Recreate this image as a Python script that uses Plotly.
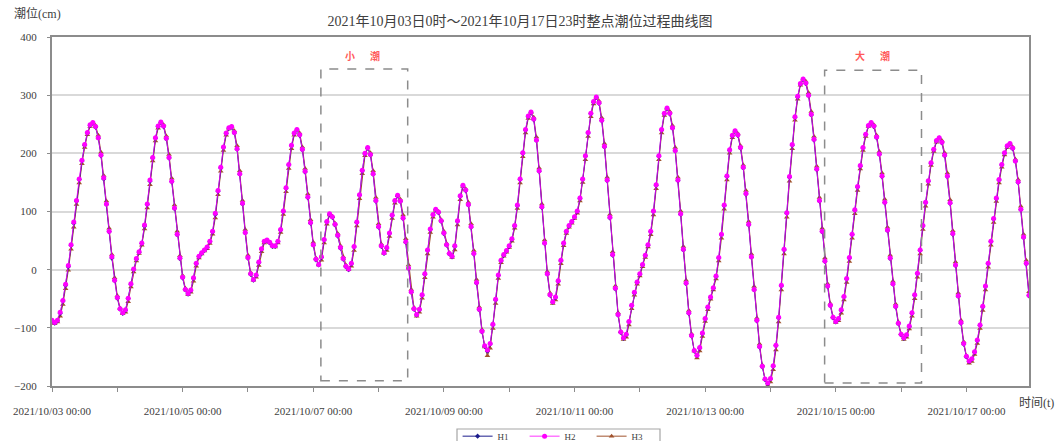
import pandas as pd
import plotly.graph_objects as go

# ---------------- data ----------------
START = "2021-10-03 00:00"
END = "2021-10-17 23:00"

H1 = [
    -88, -92, -88, -75, -54, -27, 5, 42, 80, 118, 155, 187, 214, 235, 248,
    252, 245, 226, 196, 156, 112, 65, 20, -19, -49, -68, -75,
    -70, -50, -25, 0, 18, 30, 45, 75, 112, 152, 192, 226, 246, 253,
    246, 225, 192, 151, 105, 60, 19, -14, -35, -42,
    -36, -15, 10, 22, 28, 33, 38, 48, 65, 95, 135, 175, 210, 234, 243, 245,
    235, 207, 164, 113, 63, 20, -8, -18,
    -10, 12, 35, 48, 50, 46, 40, 40, 48, 68, 100, 140, 180, 213, 234, 240,
    231, 206, 168, 124, 80, 42, 17, 8,
    21, 51, 82, 95,
    90, 77, 58, 37, 18, 5, 0,
    10, 39, 81, 128, 170, 199, 209,
    197, 164, 118, 73, 40, 28,
    37, 62, 93, 118, 127,
    117, 88, 47, 2, -39, -68, -78,
    -69, -44, -8, 33, 69, 94, 103,
    98, 83, 62, 42, 27, 22,
    40, 83, 126, 144,
    136, 111, 73, 27, -23, -69, -107, -132, -140,
    -128, -95, -52, -10, 15, 25, 32, 40, 52, 75, 110, 155, 200, 240, 263, 270,
    258, 222, 169, 107, 45, -8, -44, -56,
    -48, -20, 15, 45, 65, 75, 82, 90, 100, 122, 155, 195, 235, 268, 288, 296,
    286, 256, 211, 153, 89, 25, -33, -78, -108, -118,
    -112, -90, -62, -40, -22, -8, 8, 24, 42, 65, 100, 145, 195, 240, 268, 277,
    268, 243, 204, 153, 95, 34, -24, -75, -114, -140, -148,
    -135, -110, -85, -65, -48, -32, -12, 20, 60, 110, 160, 205, 230, 238,
    231, 209, 175, 130, 77, 21, -35, -88, -133, -167, -189, -196,
    -188, -166, -131, -83, -28, 34, 97, 159, 214, 262, 297, 319, 327,
    320, 299, 266, 223, 172, 118, 65, 14, -29, -62, -83, -90,
    -85, -70, -47, -16, 20, 60, 102, 142, 178, 209, 232, 247, 252,
    246, 227, 198, 160, 115, 67, 19, -25, -64, -93, -112, -118,
    -113, -98, -75, -44, -7, 33, 75, 115, 152, 183, 206, 221, 226,
    218, 196, 160, 114, 61, 7, -46, -92, -128, -150, -158,
    -154, -142, -122, -96, -64, -29, 10, 48, 87, 122, 154, 180, 200, 212, 216,
    208, 186, 150, 103, 55, 10, -45,
]

H2 = [
    -87, -91, -87, -73, -53, -25, 7, 43, 82, 119, 156, 188, 215, 236, 249,
    253, 246, 227, 197, 158, 113, 66, 22, -18, -48, -67, -74,
    -69, -49, -24, 1, 19, 31, 46, 77, 113, 154, 193, 227, 247, 254,
    247, 226, 193, 152, 106, 61, 20, -13, -34, -41,
    -35, -14, 11, 23, 29, 34, 39, 49, 66, 97, 136, 176, 211, 235, 244, 246,
    236, 208, 165, 114, 64, 21, -7, -17,
    -9, 13, 36, 49, 51, 47, 41, 41, 49, 69, 101, 141, 181, 214, 235, 241,
    232, 207, 169, 125, 81, 43, 18, 9,
    22, 52, 83, 96,
    91, 78, 59, 38, 19, 6, 1,
    11, 40, 82, 129, 171, 200, 210,
    198, 165, 119, 74, 41, 29,
    38, 63, 94, 119, 128,
    118, 89, 48, 3, -38, -67, -77,
    -68, -43, -7, 34, 70, 95, 104,
    99, 84, 63, 43, 28, 23,
    41, 84, 127, 145,
    137, 112, 74, 28, -22, -68, -106, -131, -138,
    -127, -94, -51, -9, 16, 26, 33, 41, 53, 76, 111, 156, 201, 241, 264, 271,
    259, 223, 170, 108, 46, -7, -43, -55,
    -47, -19, 16, 46, 66, 76, 83, 91, 101, 123, 156, 196, 236, 269, 289, 297,
    287, 257, 212, 154, 90, 26, -32, -77, -107, -117,
    -111, -89, -61, -39, -21, -7, 9, 25, 43, 66, 101, 146, 196, 241, 269, 278,
    269, 244, 205, 154, 96, 35, -23, -74, -113, -139, -147,
    -134, -109, -84, -64, -47, -31, -11, 21, 61, 111, 161, 206, 231, 239,
    232, 210, 176, 131, 78, 22, -34, -87, -132, -166, -188, -195,
    -187, -165, -130, -82, -27, 35, 98, 160, 215, 263, 298, 320, 328,
    321, 300, 267, 224, 173, 119, 66, 15, -28, -61, -82, -89,
    -84, -69, -46, -15, 21, 61, 103, 143, 179, 210, 233, 248, 253,
    247, 228, 199, 161, 116, 68, 20, -24, -63, -92, -111, -117,
    -112, -97, -74, -43, -6, 34, 76, 116, 153, 184, 207, 222, 227,
    219, 197, 161, 115, 62, 8, -45, -91, -127, -149, -157,
    -153, -141, -121, -95, -63, -28, 11, 49, 88, 123, 155, 181, 201, 213, 217,
    209, 187, 151, 104, 56, 11, -44,
]

H3 = [
    -90, -93, -90, -80, -60, -33, -1, 35, 73, 112, 149, 182, 210, 232, 246,
    252, 248, 231, 202, 162, 118, 71, 26, -14, -45, -66, -76,
    -73, -55, -30, -4, 15, 28, 42, 70, 106, 146, 187, 221, 243, 253,
    249, 230, 198, 157, 111, 66, 24, -10, -32, -43,
    -39, -20, 6, 20, 27, 32, 36, 45, 61, 89, 129, 169, 205, 231, 242, 246,
    239, 213, 170, 119, 69, 25, -5, -18,
    -13, 7, 31, 46, 50, 47, 41, 39, 46, 64, 95, 134, 174, 208, 231, 240,
    235, 211, 174, 130, 86, 47, 20, 8,
    16, 46, 78, 94,
    92, 80, 62, 41, 22, 8, 0,
    6, 33, 75, 122, 165, 196, 209,
    201, 170, 124, 79, 44, 28,
    33, 57, 88, 114, 127,
    121, 94, 53, 8, -34, -65, -80,
    -73, -49, -14, 27, 64, 90, 102,
    100, 86, 66, 45, 29, 21,
    34, 77, 120, 143,
    139, 116, 79, 33, -17, -64, -103, -133, -148,
    -135, -101, -58, -15, 12, 23, 30, 38, 49, 71, 105, 149, 194, 235, 260, 270,
    262, 228, 175, 113, 51, -3, -40, -58,
    -52, -25, 10, 41, 62, 73, 80, 88, 97, 118, 150, 189, 229, 263, 285, 296,
    290, 261, 217, 159, 95, 31, -28, -74, -106, -120,
    -116, -95, -67, -44, -25, -11, 5, 21, 39, 60, 94, 139, 189, 235, 265, 277,
    272, 248, 210, 159, 101, 40, -18, -70, -110, -140, -152,
    -140, -115, -89, -69, -51, -35, -16, 15, 54, 104, 154, 200, 227, 238,
    234, 213, 180, 136, 83, 27, -29, -83, -128, -164, -188, -199,
    -193, -172, -138, -90, -35, 27, 90, 152, 208, 257, 293, 317, 327,
    324, 304, 272, 229, 178, 124, 71, 20, -24, -58, -81, -91,
    -88, -75, -52, -22, 14, 54, 96, 136, 173, 205, 229, 246, 252,
    249, 231, 203, 166, 121, 73, 25, -20, -59, -90, -110, -120,
    -116, -102, -80, -50, -13, 27, 69, 109, 147, 179, 203, 219, 226,
    222, 201, 166, 120, 67, 13, -40, -87, -124, -148, -161,
    -158, -146, -127, -101, -70, -35, 4, 42, 81, 117, 149, 176, 197, 210, 216,
    211, 190, 155, 109, 61, 16, -38,
]

SERIES_NAMES = ["H1", "H2", "H3"]
TITLE = "2021年10月03日0时～2021年10月17日23时整点潮位过程曲线图"
Y_TITLE = "潮位(cm)"
X_TITLE = "时间(t)"
BOX_LABELS = ["小\u3000\u2002潮", "大\u3000\u2002潮"]

assert len(H1) == len(H2) == len(H3) == 360, (len(H1), len(H2), len(H3))

# ---------------- styling ----------------
FONT = "'Liberation Serif', 'Noto Sans CJK SC', serif"
CJK = "'Noto Sans CJK SC', 'Liberation Serif', sans-serif"
COLORS = ["#1c1c8c", "#ff00ff", "#a0522d"]
SYMBOLS = ["diamond", "circle", "triangle-up"]
SIZES = [4, 5, 5]
WIDTHS = [1, 0.8, 1]
AXIS_GREY = "#8c8c8c"

times = pd.date_range(START, END, freq="h")

fig = go.Figure()
series = list(zip(SERIES_NAMES, [H1, H2, H3], COLORS, SYMBOLS, SIZES, WIDTHS))
# draw H3 first, then H1, then H2 on top (legend order kept by legendrank)
draw_order = [2, 0, 1]
for idx in draw_order:
    name, vals, col, sym, sz, lw = series[idx]
    fig.add_trace(go.Scatter(
        x=times, y=vals, name=name, mode="lines+markers", legendrank=idx + 1,
        line=dict(color=col, width=lw),
        marker=dict(color=col, symbol=sym, size=sz, line=dict(width=0)),
    ))

# dashed boxes (小潮 / 大潮)
box_specs = [
    dict(x0="2021-10-07 02:48", x1="2021-10-08 10:42", y0=-191, y1=345,
         lx="2021-10-07 18:00", ly=368),
    dict(x0="2021-10-14 19:54", x1="2021-10-16 07:30", y0=-195, y1=343,
         lx="2021-10-15 13:30", ly=368),
]
for spec, label in zip(box_specs, BOX_LABELS):
    fig.add_shape(type="rect", xref="x", yref="y",
                  x0=spec["x0"], x1=spec["x1"], y0=spec["y0"], y1=spec["y1"],
                  line=dict(color="#8c8c8c", width=1.5, dash="dash"),
                  fillcolor="rgba(0,0,0,0)")
    fig.add_annotation(x=spec["lx"], y=spec["ly"], xref="x", yref="y",
                       text=f"<b>{label}</b>", showarrow=False,
                       font=dict(family=CJK, size=10, color="#ff5a5a"))

# legend frame (drawn as a shape so the entries can sit close to its top edge)
fig.add_shape(type="rect", xref="paper", yref="paper",
              x0=(457 - 52) / 977, x1=(660 - 52) / 977,
              y0=-0.25, y1=(386 - 429) / 349,
              line=dict(color="#a6a6a6", width=1.2), fillcolor="white",
              layer="below")

# axis titles as annotations
fig.add_annotation(x=-0.041, y=1.066, xref="paper", yref="paper",
                   xanchor="left", yanchor="middle", text=Y_TITLE, showarrow=False,
                   font=dict(family=FONT, size=12, color="#404040"))
fig.add_annotation(x=1.008, y=-0.049, xref="paper", yref="paper",
                   xanchor="center", yanchor="middle", text=X_TITLE, showarrow=False,
                   font=dict(family=FONT, size=12, color="#404040"))

fig.update_layout(
    width=1062, height=441,
    margin=dict(l=52, r=33, t=37, b=55, autoexpand=False),
    paper_bgcolor="white", plot_bgcolor="white",
    font=dict(family=FONT, color="#404040"),
    title=dict(text=TITLE, x=520 / 1062, xanchor="center", xref="container",
               y=1 - 21 / 441, yanchor="middle", yref="container",
               font=dict(family=FONT, size=14, color="#404040")),
    showlegend=True,
    legend=dict(orientation="h", x=0.518, xanchor="center", y=-0.1022, yanchor="top",
                borderwidth=0, bgcolor="rgba(0,0,0,0)",
                font=dict(family=FONT, size=9, color="#404040"),
                entrywidth=22, entrywidthmode="pixels", itemwidth=30,
                tracegroupgap=0),
    xaxis=dict(
        type="date", range=[START, END],
        tick0="2021-10-03", dtick=2 * 86400000, tickformat="%Y/%m/%d %H:%M",
        ticks="outside", ticklen=4, tickcolor=AXIS_GREY, tickwidth=1,
        minor=dict(dtick=86400000, tick0="2021-10-03", ticks="outside",
                   ticklen=4, tickcolor=AXIS_GREY, showgrid=False),
        showline=True, linecolor=AXIS_GREY, linewidth=2, mirror=True,
        showgrid=False, zeroline=False,
        tickfont=dict(family=FONT, size=11, color="#404040"),
        ticklabelstandoff=10,
    ),
    yaxis=dict(
        range=[-200, 400], tick0=0, dtick=100,
        ticks="outside", ticklen=3, tickcolor=AXIS_GREY,
        showline=True, linecolor=AXIS_GREY, linewidth=2, mirror=True,
        showgrid=True, gridcolor="#d9d9d9", gridwidth=1.5, zeroline=False,
        tickfont=dict(family=FONT, size=11, color="#404040"),
        ticklabelstandoff=8,
    ),
)

fig.write_html("out.html",
               config={"displayModeBar": False},
               post_script="document.body.style.margin='0';document.body.style.padding='0';")
